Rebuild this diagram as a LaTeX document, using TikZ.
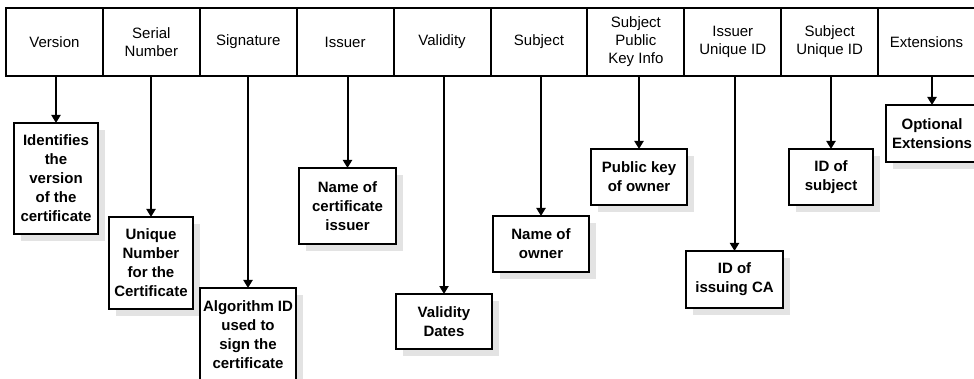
\documentclass[tikz,border=0pt]{standalone}
\usepackage{fontspec}
\setmainfont{Liberation Sans}
\usetikzlibrary{arrows.meta,shadows}
\begin{document}
\begin{tikzpicture}[x=1pt,y=-1pt,
  field/.style={draw,line width=2pt,rectangle,inner sep=0pt,outer sep=0pt,
    minimum width=96.9pt,minimum height=68pt,align=center,
    font=\fontsize{15}{18}\selectfont},
  note/.style={draw,line width=2pt,rectangle,fill=white,inner sep=0pt,outer sep=0pt,
    align=center,font=\fontsize{15}{19}\selectfont\bfseries,
    drop shadow={shadow xshift=7pt,shadow yshift=-7pt,fill=black!11,opacity=1}},
  arr/.style={line width=2pt,-{Triangle[width=9pt,length=8pt]}}]
\useasboundingbox (0,0) rectangle (974,379);

% certificate fields
\node[field] (f1)  at (54.45,42)  {Version};
\node[field] (f2)  at (151.35,42) {Serial\\Number};
\node[field] (f3)  at (248.25,42) {Signature};
\node[field] (f4)  at (345.15,42) {Issuer};
\node[field] (f5)  at (442.05,42) {Validity};
\node[field] (f6)  at (538.95,42) {Subject};
\node[field] (f7)  at (635.85,42) {Subject\\Public\\Key Info};
\node[field] (f8)  at (732.75,42) {Issuer\\Unique ID};
\node[field] (f9)  at (829.65,42) {Subject\\Unique ID};
\node[field] (f10) at (926.55,42) {Extensions};

% descriptions
\node[note,minimum width=84pt,minimum height=111pt] (d1)  at (56,178.5)   {Identifies\\the\\version\\of the\\certificate};
\node[note,minimum width=84pt,minimum height=92pt]  (d2)  at (151,263)    {Unique\\Number\\for the\\Certificate};
\node[note,minimum width=96pt,minimum height=93pt]  (d3)  at (248,334.5)  {Algorithm ID\\used to\\sign the\\certificate};
\node[note,minimum width=97pt,minimum height=76pt]  (d4)  at (347.5,206)  {Name of\\certificate\\issuer};
\node[note,minimum width=96pt,minimum height=55pt]  (d5)  at (444,321.5)  {Validity\\Dates};
\node[note,minimum width=96pt,minimum height=56pt]  (d6)  at (541,244)    {Name of\\owner};
\node[note,minimum width=96pt,minimum height=56pt]  (d7)  at (639,177)    {Public key\\of owner};
\node[note,minimum width=97pt,minimum height=57pt]  (d8)  at (734.5,279.5){ID of\\issuing CA};
\node[note,minimum width=84pt,minimum height=56pt]  (d9)  at (831,177)    {ID of\\subject};
\node[note,minimum width=92pt,minimum height=57pt]  (d10) at (932,133.5)  {Optional\\Extensions};

% connectors
\foreach \i in {1,...,10}
  \draw[arr] (d\i.north |- f\i.south) -- (d\i.north);
\end{tikzpicture}
\end{document}
